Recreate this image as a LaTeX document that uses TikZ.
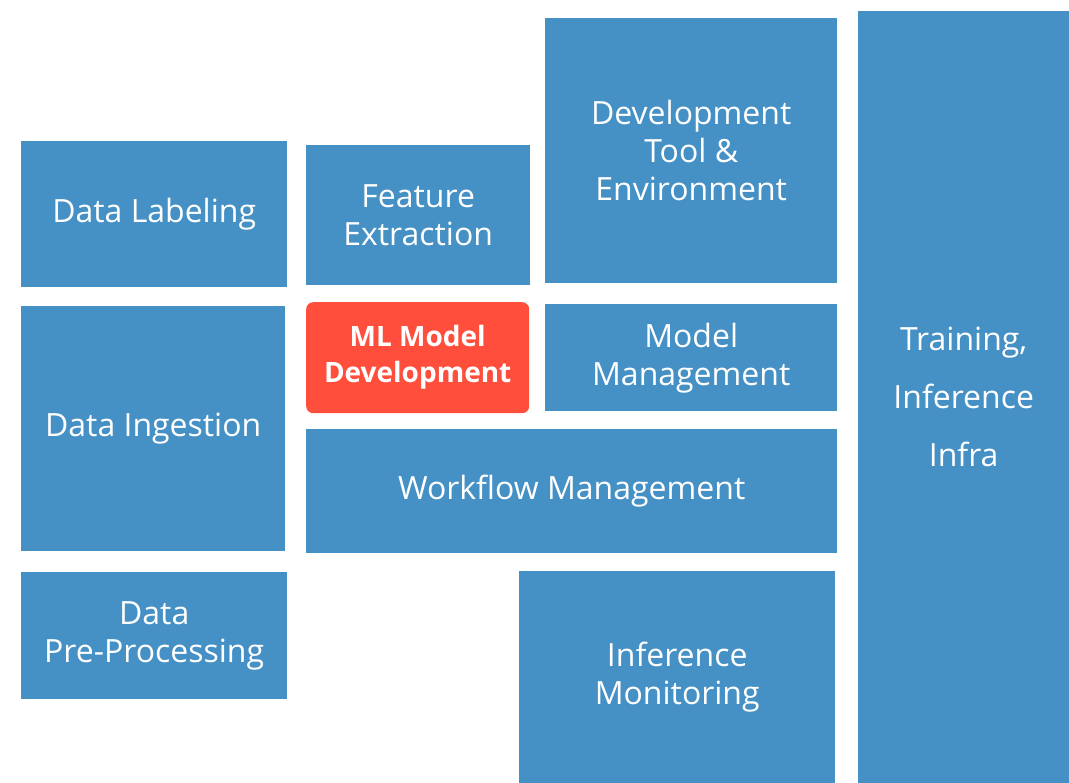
\documentclass[tikz,border=0pt]{standalone}
\usepackage{fontspec}
\setmainfont{Open Sans}
\usetikzlibrary{positioning}
\definecolor{boxblue}{HTML}{4590C5}
\definecolor{boxred}{HTML}{FF4E3C}
\tikzset{
	block/.style={fill=boxblue,text=white,anchor=north west,inner sep=0pt,align=center,
		font=\fontsize{32}{38}\selectfont},
	hotblock/.style={block,fill=boxred,rounded corners=7pt,font=\bfseries\fontsize{28}{36}\selectfont},
}
\begin{document}
\begin{tikzpicture}[x=1pt,y=-1pt]
	\useasboundingbox (0,0) rectangle (1069,783);
	% left column
	\node[block,minimum width=266pt,minimum height=146pt] (label) at (21,141) {Data Labeling};
	\node[block,minimum width=264pt,minimum height=245pt] (ingest) at (21,306) {Data Ingestion};
	\node[block,minimum width=266pt,minimum height=127pt] (prep) at (21,572) {Data\\Pre-Processing};
	% middle
	\node[block,minimum width=224pt,minimum height=140pt] (feature) at (306,145) {Feature\\Extraction};
	\node[hotblock,minimum width=223pt,minimum height=111pt] (mldev) at (306,302) {ML Model\\Development};
	\node[block,minimum width=292pt,minimum height=265pt] (devtool) at (545,18) {Development\\Tool \&\\Environment};
	\node[block,minimum width=292pt,minimum height=107pt] (modelmgmt) at (545,304) {Model\\Management};
	\node[block,minimum width=531pt,minimum height=124pt] (workflow) at (306,429) {Workflow Management};
	\node[block,minimum width=316pt,minimum height=212pt] (monitor) at (519,571) {Inference\\Monitoring};
	% right column
	\node[block,minimum width=211pt,minimum height=772pt,font=\fontsize{32}{58}\selectfont] (infra) at (858,11) {Training,\\Inference\\Infra};
\end{tikzpicture}
\end{document}
